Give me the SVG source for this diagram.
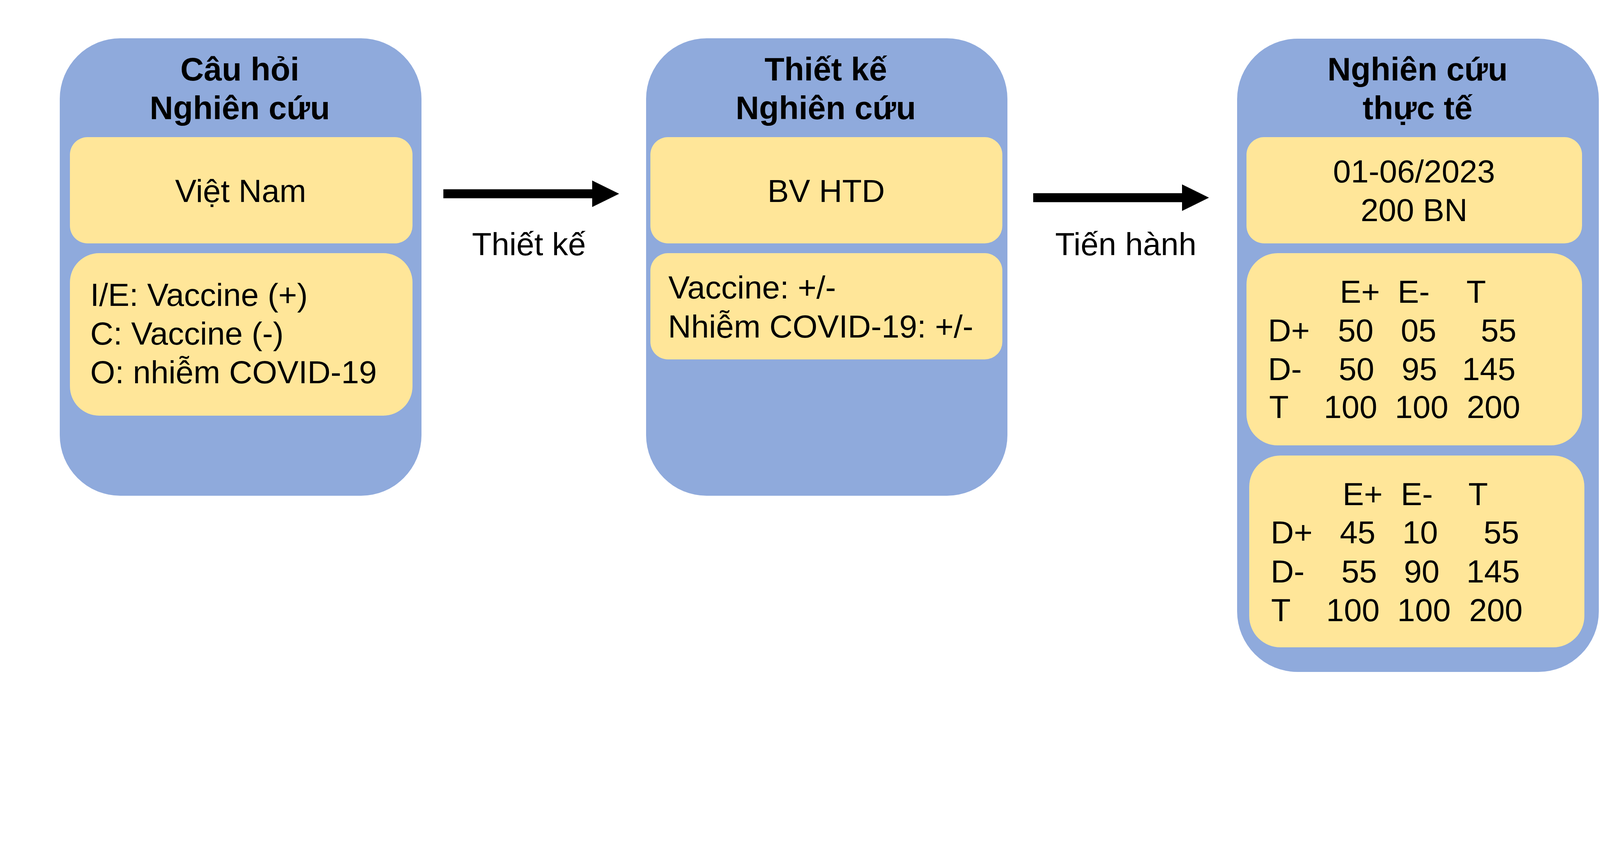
<svg xmlns="http://www.w3.org/2000/svg" width="4244" height="2163" viewBox="0 0 4244 2163">
<style>
.outer{fill:#8FAADC}
.inner{fill:#FFE699}
text{font-family:"Liberation Sans",Arial,sans-serif;font-size:82px;fill:#000}
.title{font-weight:bold;font-size:83px;text-anchor:middle}
.mid{text-anchor:middle}
.shaft{stroke:#000;stroke-width:23;fill:none}
</style>
<defs>
<marker id="ah" markerUnits="userSpaceOnUse" markerWidth="70" markerHeight="70" refX="0" refY="34" orient="auto" viewBox="0 0 70 70">
<path d="M0,0 L69,34 L0,68 Z" fill="#000"/>
</marker>
</defs>
<rect width="4244" height="2163" fill="#fff"/>

<g id="node-cau-hoi">
<rect class="outer" x="153" y="98" width="926" height="1171" rx="155" ry="155"/>
<text class="title" x="614" y="206">Câu hỏi</text>
<text class="title" x="614" y="305">Nghiên cứu</text>
<rect class="inner" x="179" y="351" width="877" height="272" rx="45" ry="45"/>
<text class="mid" x="616" y="517">Việt Nam</text>
<rect class="inner" x="179" y="648" width="877" height="416" rx="75" ry="75"/>
<text x="231" y="783">I/E: Vaccine (+)</text>
<text x="231" y="882">C: Vaccine (-)</text>
<text x="231" y="981">O: nhiễm COVID-19</text>
</g>

<g id="node-thiet-ke">
<rect class="outer" x="1654" y="98" width="925" height="1171" rx="155" ry="155"/>
<text class="title" x="2114" y="206">Thiết kế</text>
<text class="title" x="2114" y="305">Nghiên cứu</text>
<rect class="inner" x="1665" y="351" width="901" height="272" rx="45" ry="45"/>
<text class="mid" x="2115" y="517">BV HTD</text>
<rect class="inner" x="1665" y="648" width="901" height="272" rx="45" ry="45"/>
<text x="1711" y="764">Vaccine: +/-</text>
<text x="1710" y="864">Nhiễm COVID-19: +/-</text>
</g>

<g id="node-thuc-te">
<rect class="outer" x="3167" y="99" width="926" height="1621" rx="155" ry="155"/>
<text class="title" x="3629" y="206">Nghiên cứu</text>
<text class="title" x="3629" y="305">thực tế</text>
<rect class="inner" x="3191" y="351" width="859" height="272" rx="45" ry="45"/>
<text class="mid" x="3620" y="467">01-06/2023</text>
<text class="mid" x="3620" y="566">200 BN</text>
<rect class="inner" x="3191" y="648" width="859" height="492" rx="80" ry="80"/>
<text y="775"><tspan x="3430">E+</tspan><tspan x="3578">E-</tspan><tspan x="3754">T</tspan></text>
<text y="874"><tspan x="3246">D+</tspan><tspan x="3425">50</tspan><tspan x="3586">05</tspan><tspan x="3791">55</tspan></text>
<text y="973"><tspan x="3246">D-</tspan><tspan x="3427">50</tspan><tspan x="3588">95</tspan><tspan x="3743">145</tspan></text>
<text y="1070"><tspan x="3249">T</tspan><tspan x="3389">100</tspan><tspan x="3571">100</tspan><tspan x="3755">200</tspan></text>
<rect class="inner" x="3198" y="1166" width="858" height="491" rx="80" ry="80"/>
<text y="1293"><tspan x="3437">E+</tspan><tspan x="3586">E-</tspan><tspan x="3759">T</tspan></text>
<text y="1391"><tspan x="3253">D+</tspan><tspan x="3430">45</tspan><tspan x="3590">10</tspan><tspan x="3798">55</tspan></text>
<text y="1491"><tspan x="3253">D-</tspan><tspan x="3434">55</tspan><tspan x="3594">90</tspan><tspan x="3754">145</tspan></text>
<text y="1590"><tspan x="3254">T</tspan><tspan x="3395">100</tspan><tspan x="3577">100</tspan><tspan x="3761">200</tspan></text>
</g>

<g id="connectors">
<path class="shaft" d="M1135,496 H1516" marker-end="url(#ah)"/>
<text class="mid" x="1354" y="653">Thiết kế</text>
<path class="shaft" d="M2645,506 H3026" marker-end="url(#ah)"/>
<text class="mid" x="2882" y="653">Tiến hành</text>
</g>
</svg>
